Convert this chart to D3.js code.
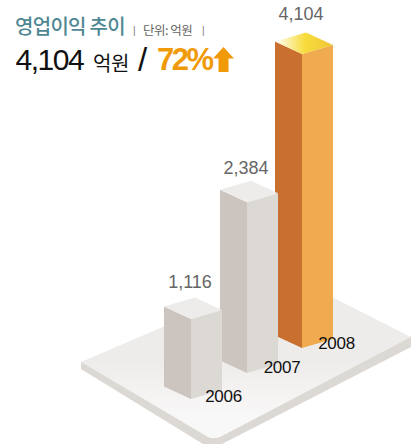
<!DOCTYPE html>
<html><head><meta charset="utf-8">
<script src="https://cdn.jsdelivr.net/npm/d3@7"></script>
<style>
html,body{margin:0;padding:0;background:#fff}
svg{display:block}
text{font-family:"Liberation Sans",Arial,sans-serif}
.kr{font-family:"Noto Sans CJK KR","Noto Sans",sans-serif}
</style></head><body>
<svg id="c" width="411" height="444"></svg>
<script>
const years = ["2006","2007","2008"];
const values = [1116,2384,4104];
const valueLabels = ["1,116","2,384","4,104"];

const W=411,H=444;
const svg=d3.select("#c");
const defs=svg.append("defs");

const x=d3.scaleOrdinal().domain(years).range([191,247,302]);
const base=d3.scaleOrdinal().domain(years).range([399,373,348]);
const h=d3.scaleLinear().domain([0,4104]).range([0,294]);
const yearX=d3.scaleOrdinal().domain(years).range([223.5,282,336.5]);
const yearY=d3.scaleOrdinal().domain(years).range([402,373,349]);
const valY=d3.scaleOrdinal().domain(years).range([288,174,20]);

const L=[-27,-12.5],R=[31,-9];

// gradients
const g1=defs.append("linearGradient").attr("id","plate").attr("x1",0).attr("y1",0).attr("x2",0).attr("y2",1);
g1.append("stop").attr("offset","0.45").attr("stop-color","#eeecea");
g1.append("stop").attr("offset","0.85").attr("stop-color","#f9f8f8");
const g2=defs.append("linearGradient").attr("id","gold").attr("gradientUnits","userSpaceOnUse")
  .attr("x1",276).attr("y1",0).attr("x2",334).attr("y2",0);
g2.append("stop").attr("offset","0").attr("stop-color","#fffdf5");
g2.append("stop").attr("offset","0.5").attr("stop-color","#f7dc3c");
g2.append("stop").attr("offset","1").attr("stop-color","#efc435");

// plate
svg.append("path").attr("fill","#dcd8d3")
  .attr("d","M81,362 L81,369 L203,444 L222,444 L411,347 L411,337 Z");
svg.append("path").attr("fill","url(#plate)")
  .attr("d","M81,362 L200,311 L330,296 L411,337 L222,436 Q215,440 208,437 Z");

const colors={
  "2006":{l:"#cbc4bf",r:"#dcd8d4",t:"#eeecea"},
  "2007":{l:"#cbc4bf",r:"#dcd8d4",t:"#eeecea"},
  "2008":{l:"#c96f30",r:"#f0ab4e",t:"url(#gold)"}
};
const line=d3.line();
const rows=years.map((y,i)=>({y,v:values[i],lab:valueLabels[i]})).reverse();
const bar=svg.selectAll("g.bar").data(rows).join("g").attr("class","bar");
bar.each(function(d){
  const g=d3.select(this),fx=x(d.y),by=base(d.y),ty=by-h(d.v);
  g.append("path").attr("fill",colors[d.y].l).attr("d",line([[fx,by],[fx,ty],[fx+L[0],ty+L[1]],[fx+L[0],by+L[1]]])+"Z");
  g.append("path").attr("fill",colors[d.y].r).attr("d",line([[fx,by],[fx,ty],[fx+R[0],ty+R[1]],[fx+R[0],by+R[1]]])+"Z");
  g.append("path").attr("fill",colors[d.y].t).attr("d",line([[fx,ty],[fx+L[0],ty+L[1]],[fx+L[0]+R[0],ty+L[1]+R[1]],[fx+R[0],ty+R[1]]])+"Z");
});
svg.selectAll("text.val").data(rows).join("text").attr("class","val")
  .attr("x",d=>x(d.y)-1).attr("y",d=>valY(d.y)).attr("text-anchor","middle")
  .attr("font-size",18).attr("fill","#666").attr("font-family","Inter").attr("font-weight",200).text(d=>d.lab);
svg.selectAll("text.yr").data(rows).join("text").attr("class","yr")
  .attr("x",d=>yearX(d.y)).attr("y",d=>yearY(d.y)).attr("text-anchor","middle")
  .attr("font-size",17).attr("letter-spacing",-0.3).attr("fill","#111").text(d=>d.y);

// heading
const T=(t,x0,y,size,fill,extra={})=>{const e=svg.append("text").attr("x",x0).attr("y",y).attr("font-size",size).attr("fill",fill).text(t);
  Object.entries(extra).forEach(([k,v])=>e.attr(k,v));return e;};
T("영업이익 추이",15,34,20,"#4f8793",{class:"kr","font-weight":500,"letter-spacing":-0.7});
T("|",133,34,10,"#777");
T("단위: 억원",143,35,12.5,"#666",{class:"kr","letter-spacing":-0.5});
T("|",202,34,10,"#777");
T("4,104",15.5,70,30,"#111",{"letter-spacing":-1.5});
T("억원",93,71,20,"#111",{class:"kr","letter-spacing":-0.4});
T("/",138,71,33,"#111");
T("72%",157,70,31,"#f09a0a",{"font-weight":700,"letter-spacing":-2.5});
svg.append("path").attr("fill","#f09a0a").attr("d","M223.5,47 L234,58.5 L228.5,58.5 L228.5,72 L218.5,72 L218.5,58.5 L213,58.5 Z");
</script>
</body></html>
